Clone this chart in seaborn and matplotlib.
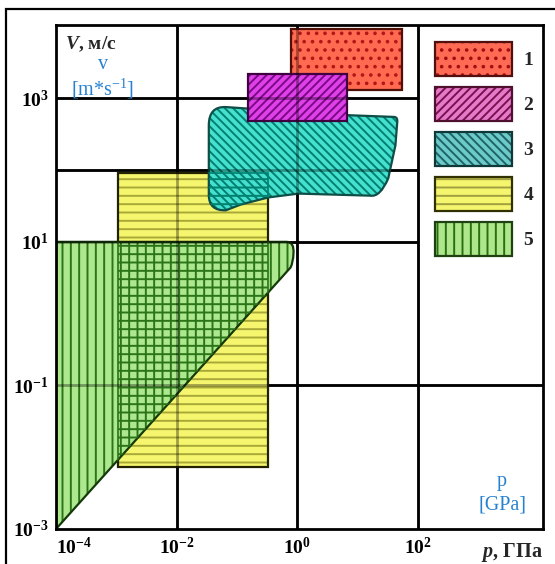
import matplotlib
matplotlib.use("Agg")
import matplotlib.pyplot as plt
import seaborn as sns
from matplotlib.patches import PathPatch, Patch, Rectangle
from matplotlib.path import Path
from matplotlib.legend_handler import HandlerTuple

# ---------------- data ----------------
x_ticks = [1e-4, 1e-2, 1e0, 1e2]
x_tick_labels = [r"$\mathbf{10^{-4}}$", r"$\mathbf{10^{-2}}$", r"$\mathbf{10^{0}}$", r"$\mathbf{10^{2}}$"]
y_ticks = [1e-3, 1e-1, 1e1, 1e3]
y_tick_labels = [r"$\mathbf{10^{-3}}$", r"$\mathbf{10^{-1}}$", r"$\mathbf{10^{1}}$", r"$\mathbf{10^{3}}$"]
x_limits = [1e-4, 1.17e4]
y_limits = [1e-3, 1.05e4]

region_names = ["1", "2", "3", "4", "5"]

# rectangular regions: pressure p (GPa) and velocity v (m/s) ranges
r1_p = [0.79, 55.0]
r1_v = [1300.0, 9100.0]
r2_p = [0.15, 6.5]
r2_v = [490.0, 2150.0]
r4_p = [1.06e-3, 0.33]
r4_v = [0.0074, 90.0]

# region 3 outline
r3_p = [0.065, 1.12, 7.5, 40.0, 46.0, 45.0, 42.0, 32.0, 23.5, 16.0, 1.04, 0.33,
        0.114, 0.065, 0.034, 0.034, 0.034, 0.034, 0.065, 0.065]
r3_v = [755.0, 640.0, 580.0, 550.0, 548.0, 463.0, 221.0, 77.0, 41.6, 44.0, 47.0, 41.6,
        33.0, 27.5, 27.0, 45.0, 420.0, 775.0, 755.0, 755.0]

# region 5 outline
r5_p = [1e-4, 1e-4, 0.66, 0.89, 0.86, 0.85, 0.77, 1e-4]
r5_v = [1e-3, 10.0, 10.0, 10.0, 6.9, 5.2, 4.4, 1e-3]

# ---------------- style ----------------
M, L, C, X = Path.MOVETO, Path.LINETO, Path.CURVE3, Path.CLOSEPOLY
r3_codes = [M, L, L, L, C, C, L, L, C, C, L, L, L, L, C, C, L, C, C, X]
r5_codes = [M, L, L, C, C, C, C, X]

faces = ["#FF6A50", "#E040E8", "#45E0D0", "#F6F66E", "#AEE88E"]
hatch_cols = ["#B01818", "#7A0A86", "#00806E", "#A8A838", "#2B7418"]
edges = ["#501008", "#40003F", "#0E4E46", "#222200", "#143A0A"]
hatches = ["..", "////", "\\\\\\\\", "--", "||"]

leg_faces = ["#FF6A55", "#E57BC8", "#6CCACA", "#F5F56E", "#AEE68C"]
leg_hatch_cols = ["#A01010", "#7A1050", "#1E6464", "#A0A040", "#2A6E14"]
leg_edges = ["#501010", "#501030", "#103838", "#303000", "#1F4010"]

blue = "#2681D1"

sns.set_theme(style="white")
plt.rcParams["font.family"] = ["Liberation Serif", "DejaVu Serif"]
plt.rcParams["mathtext.fontset"] = "custom"
plt.rcParams["mathtext.rm"] = "Liberation Serif"
plt.rcParams["mathtext.it"] = "Liberation Serif:italic:bold"
plt.rcParams["mathtext.bf"] = "Liberation Serif:bold"
plt.rcParams["hatch.linewidth"] = 1.4

fig = plt.figure(figsize=(5.55, 5.64), dpi=100)
ax = fig.add_axes([0.1009, 0.0621, 0.8775, 0.8936])
ax.set_xscale("log")
ax.set_yscale("log")
ax.set_xlim(*x_limits)
ax.set_ylim(*y_limits)
ax.set_facecolor("white")


def rect_path(ps, vs):
    return Path([(ps[0], vs[0]), (ps[1], vs[0]), (ps[1], vs[1]), (ps[0], vs[1]), (ps[0], vs[0])],
                [M, L, L, L, X])


def add_region(path, i, z):
    body = PathPatch(path, facecolor=faces[i], edgecolor=hatch_cols[i], hatch=hatches[i],
                     lw=0, zorder=z)
    ax.add_patch(body)
    ax.add_patch(PathPatch(path, fill=False, edgecolor=edges[i], lw=1.6, zorder=z + 0.01))
    return body


def add_overlay(path, hatch, color, clip, z):
    ov = PathPatch(path, fill=False, edgecolor=color, hatch=hatch, lw=1.2, zorder=z)
    ax.add_patch(ov)
    ov.set_clip_path(clip)


path1 = rect_path(r1_p, r1_v)
path2 = rect_path(r2_p, r2_v)
path3 = Path(list(zip(r3_p, r3_v)), r3_codes)
path4 = rect_path(r4_p, r4_v)
path5 = Path(list(zip(r5_p, r5_v)), r5_codes)

# grid lines underneath the regions
grid_kw = dict(color="black", lw=2.0)
for xv in x_ticks[1:]:
    ax.axvline(xv, zorder=0.5, **grid_kw)
for yv in [1e3, 1e2, 1e1]:
    ax.hlines(yv, x_limits[0], 1e2, zorder=0.5, **grid_kw)
ax.hlines(1e-1, x_limits[0], x_limits[1], zorder=0.5, **grid_kw)

body4 = add_region(path4, 3, 1.00)
body5 = add_region(path5, 4, 1.10)
add_overlay(path4, hatches[3], hatch_cols[4], body5, 1.15)
body3 = add_region(path3, 2, 1.20)
add_overlay(path4, hatches[3], hatch_cols[2], body3, 1.25)
add_region(path1, 0, 1.30)
add_region(path2, 1, 1.35)

# grid lines seen through the tinted regions
top_kw = dict(color="black", lw=2.0, alpha=0.35)
for xv in x_ticks[1:]:
    ax.axvline(xv, zorder=1.6, **top_kw)
for yv in [1e3, 1e2, 1e1]:
    ax.hlines(yv, x_limits[0], 1e2, zorder=1.6, **top_kw)
ax.hlines(1e-1, x_limits[0], x_limits[1], zorder=1.6, **top_kw)

# axes frame and ticks
for s in ax.spines.values():
    s.set_color("black")
    s.set_linewidth(2.0)
    s.set_zorder(3)
ax.set_xticks(x_ticks)
ax.set_xticklabels(x_tick_labels)
ax.set_yticks(y_ticks)
ax.set_yticklabels(y_tick_labels)
ax.minorticks_off()
ax.tick_params(axis="both", length=0, labelsize=14, colors="black")
ax.tick_params(axis="x", pad=6)
ax.tick_params(axis="y", pad=5)
ax.get_xticklabels()[0].set_horizontalalignment("left")

# axis titles
ax.text(0.018, 0.982, r"$V$, м/с", transform=ax.transAxes, ha="left", va="top",
        fontsize=14, fontweight="bold")
ax.text(1.0, -0.046, r"$p$, ГПа", transform=ax.transAxes, ha="right", va="center",
        fontsize=14.5, fontweight="bold", clip_on=False)
ax.text(0.0965, 0.921, "v", transform=ax.transAxes, ha="center", va="center",
        fontsize=14.5, color=blue)
ax.text(0.0965, 0.873, r"[m*s$^{\mathregular{-1}}$]", transform=ax.transAxes, ha="center",
        va="center", fontsize=14.5, color=blue)
ax.text(0.916, 0.095, "p", transform=ax.transAxes, ha="center", va="center",
        fontsize=14.5, color=blue)
ax.text(0.916, 0.048, "[GPa]", transform=ax.transAxes, ha="center", va="center",
        fontsize=14.5, color=blue)

# legend
handles = []
for i in range(5):
    handles.append((Patch(facecolor=leg_faces[i], edgecolor=leg_hatch_cols[i], hatch=hatches[i], lw=0),
                    Patch(fill=False, edgecolor=leg_edges[i], lw=1.6)))
ax.legend(handles, region_names, handler_map={tuple: HandlerTuple(ndivide=1, pad=0)},
          loc="upper left", bbox_to_anchor=(0.743, 1.0), borderaxespad=0, borderpad=0.87,
          handlelength=3.96, handleheight=2.31, labelspacing=0.57, handletextpad=0.6,
          frameon=False, prop={"family": "Liberation Serif", "weight": "bold", "size": 14})

# outer border of the figure
fig.patches.append(Rectangle((6 / 555, -0.1), 1.2, 1.084, transform=fig.transFigure,
                             fill=False, edgecolor="black", lw=1.6))

fig.savefig("out.png", dpi=100)
